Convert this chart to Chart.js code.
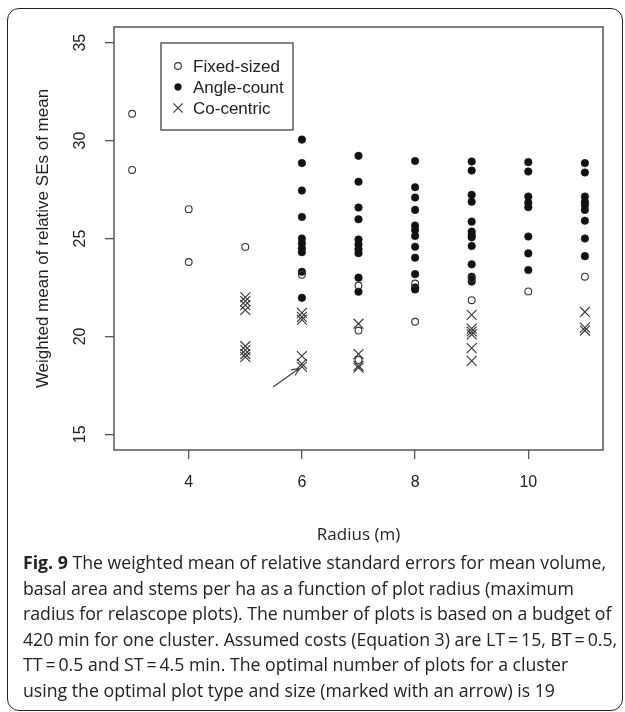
<!DOCTYPE html>
<html>
<head>
<meta charset="utf-8">
<script src="https://cdn.jsdelivr.net/npm/chart.js@4"></script>
<style>
  body { margin: 0; background: #fff; }
  #frame { position: absolute; left: 7px; top: 8px; width: 614px; height: 701px;
           border: 1.5px solid #222; border-radius: 12px; }
  #c { position: absolute; left: 0; top: 0; }
  .cap { position: absolute; left: 23px; white-space: nowrap; font-family: "Open Sans";
         font-size: 18px; line-height: 26px; color: #222; transform-origin: 0 0; }
</style>
</head>
<body>
<div id="frame"></div>
<canvas id="c" width="625" height="560"></canvas>
<div id="caption"></div>
<script>
// tick labels
var xTicks = [4, 6, 8, 10];
var yTicks = [15, 20, 25, 30, 35];

// Fixed-sized plots
var fixedRadius = [3, 3, 4, 4, 5, 6, 7, 7, 7, 8, 8, 9, 9, 10, 11];
var fixedSE = [31.37, 28.5, 26.5, 23.8, 24.57, 23.15, 22.6, 20.3, 18.8, 22.7, 20.75, 22.95, 21.85, 22.3, 23.05];

// Angle-count plots
var angleRadius = [6, 6, 6, 6, 6, 6, 6, 6, 6, 6,
                   7, 7, 7, 7, 7, 7, 7, 7, 7, 7,
                   8, 8, 8, 8, 8, 8, 8, 8, 8, 8, 8, 8,
                   9, 9, 9, 9, 9, 9, 9, 9, 9, 9, 9, 9,
                   10, 10, 10, 10, 10, 10, 10, 10,
                   11, 11, 11, 11, 11, 11, 11, 11, 11];
var angleSE = [30.05, 28.85, 27.45, 26.1, 25.0, 24.75, 24.5, 24.3, 23.3, 21.97,
               29.22, 27.9, 26.58, 25.98, 24.95, 24.7, 24.45, 24.25, 23.0, 22.28,
               28.96, 27.62, 27.09, 26.46, 25.66, 25.43, 25.13, 24.58, 24.02, 23.18, 22.5, 22.4,
               28.93, 28.47, 27.23, 26.88, 25.86, 25.35, 25.18, 25.06, 24.62, 23.68, 23.05, 22.8,
               28.9, 28.42, 27.14, 26.83, 26.6, 25.1, 24.24, 23.39,
               28.85, 28.37, 27.14, 26.88, 26.71, 26.46, 25.91, 25.0, 24.1];

// Co-centric plots
var coRadius = [5, 5, 5, 5, 5, 5, 5, 5,
                6, 6, 6, 6, 6, 6,
                7, 7, 7, 7,
                9, 9, 9, 9, 9, 9,
                11, 11, 11];
var coSE = [22.0, 21.8, 21.6, 21.35, 19.5, 19.3, 19.1, 18.95,
            21.2, 21.0, 20.85, 19.0, 18.6, 18.45,
            20.65, 19.1, 18.5, 18.4,
            21.1, 20.4, 20.25, 20.1, 19.4, 18.75,
            21.25, 20.45, 20.3];

// arrow pointing at the optimum (data units)
var arrowFrom = [5.49, 17.42];
var arrowTo = [5.95, 18.36];

var captionLines = [
  '<b>Fig. 9</b> The weighted mean of relative standard errors for mean volume,',
  'basal area and stems per ha as a function of plot radius (maximum',
  'radius for relascope plots). The number of plots is based on a budget of',
  '420 min for one cluster. Assumed costs (Equation 3) are LT\u2009=\u200915, BT\u2009=\u20090.5,',
  'TT\u2009=\u20090.5 and ST\u2009=\u20094.5 min. The optimal number of plots for a cluster',
  'using the optimal plot type and size (marked with an arrow) is 19'
];
var captionWidth = 583; // width of the first caption line in the figure

function pts(xs, ys) {
  return xs.map(function (x, i) { return {x: x, y: ys[i]}; });
}

var axisFont = '16px "Liberation Sans", Arial, sans-serif';

function marker(ctx, ds, x, y) {
  ctx.save();
  ctx.lineWidth = ds.borderWidth;
  ctx.strokeStyle = ds.borderColor;
  ctx.fillStyle = ds.backgroundColor;
  var r = ds.pointRadius;
  ctx.beginPath();
  if (ds.pointStyle === 'crossRot') {
    var d = r * Math.SQRT1_2;
    ctx.moveTo(x - d, y - d); ctx.lineTo(x + d, y + d);
    ctx.moveTo(x - d, y + d); ctx.lineTo(x + d, y - d);
    ctx.stroke();
  } else {
    ctx.arc(x, y, r, 0, Math.PI * 2);
    ctx.fill();
    ctx.stroke();
  }
  ctx.restore();
}

var rStyle = {
  id: 'rStyle',
  beforeDatasetsDraw: function (chart) {
    var ctx = chart.ctx, a = chart.chartArea;
    ctx.save();
    ctx.strokeStyle = '#555';
    ctx.lineWidth = 1.5;
    ctx.strokeRect(a.left, a.top, a.right - a.left, a.bottom - a.top);
    ctx.restore();
  },
  afterDraw: function (chart) {
    var ctx = chart.ctx, xs = chart.scales.x, ys = chart.scales.y;

    // rotated y tick labels like R
    ctx.save();
    ctx.font = axisFont;
    ctx.fillStyle = '#222';
    ctx.textAlign = 'center';
    ctx.textBaseline = 'middle';
    ys.ticks.forEach(function (t) {
      ctx.save();
      ctx.translate(81, ys.getPixelForValue(t.value));
      ctx.rotate(-Math.PI / 2);
      ctx.fillText(String(t.value), 0, 0);
      ctx.restore();
    });
    ctx.restore();

    // arrow
    var x0 = xs.getPixelForValue(arrowFrom[0]), y0 = ys.getPixelForValue(arrowFrom[1]);
    var x1 = xs.getPixelForValue(arrowTo[0]), y1 = ys.getPixelForValue(arrowTo[1]);
    var ang = Math.atan2(y1 - y0, x1 - x0), h = 8;
    ctx.save();
    ctx.strokeStyle = '#444';
    ctx.lineWidth = 1.2;
    ctx.beginPath();
    ctx.moveTo(x0, y0); ctx.lineTo(x1, y1);
    ctx.moveTo(x1 - h * Math.cos(ang - 0.45), y1 - h * Math.sin(ang - 0.45));
    ctx.lineTo(x1, y1);
    ctx.lineTo(x1 - h * Math.cos(ang + 0.45), y1 - h * Math.sin(ang + 0.45));
    ctx.stroke();
    ctx.restore();

    // legend box, top left of the plot
    ctx.save();
    ctx.strokeStyle = '#444';
    ctx.lineWidth = 1.3;
    ctx.strokeRect(161, 43, 132, 87);
    ctx.font = '17px "Liberation Sans", Arial, sans-serif';
    ctx.fillStyle = '#222';
    ctx.textBaseline = 'middle';
    chart.data.datasets.forEach(function (ds, i) {
      var ly = 66 + i * 21;
      var lr = ds.pointStyle === 'crossRot' ? 6.5 : 3.4;
      marker(ctx, {pointStyle: ds.pointStyle, pointRadius: lr, borderWidth: ds.borderWidth,
                   borderColor: ds.borderColor, backgroundColor: ds.backgroundColor}, 178, ly);
      ctx.fillStyle = '#222';
      ctx.fillText(ds.label, 193, ly + 1);
    });
    ctx.restore();
  }
};

var ctx = document.getElementById('c').getContext('2d');

var chart = new Chart(ctx, {
  type: 'scatter',
  data: {
    datasets: [{
      label: 'Fixed-sized',
      data: pts(fixedRadius, fixedSE),
      pointStyle: 'circle',
      pointRadius: 3.4,
      borderWidth: 1.1,
      borderColor: '#333',
      backgroundColor: 'rgba(0,0,0,0)'
    }, {
      label: 'Angle-count',
      data: pts(angleRadius, angleSE),
      pointStyle: 'circle',
      pointRadius: 3.8,
      borderWidth: 0.5,
      borderColor: '#111',
      backgroundColor: '#111'
    }, {
      label: 'Co-centric',
      data: pts(coRadius, coSE),
      pointStyle: 'crossRot',
      pointRadius: 7,
      borderWidth: 1.1,
      borderColor: '#333',
      backgroundColor: '#333'
    }]
  },
  options: {
    responsive: false,
    devicePixelRatio: 1,
    animation: false,
    layout: { padding: { top: 27, right: 22, left: 0, bottom: 0 } },
    plugins: { legend: { display: false }, tooltip: { enabled: false } },
    scales: {
      x: {
        type: 'linear',
        min: 2.68,
        max: 11.32,
        afterBuildTicks: function (s) { s.ticks = xTicks.map(function (v) { return {value: v}; }); },
        afterFit: function (s) { s.height = 110; },
        grid: { drawOnChartArea: false, drawTicks: true, tickLength: 9, color: '#555', lineWidth: 1.3 },
        border: { display: false },
        ticks: { font: { family: '"Liberation Sans", Arial, sans-serif', size: 16 }, color: '#222', padding: 14, maxRotation: 0 },
        title: { display: true, text: 'Radius (m)', color: '#222',
                 font: { family: '"Open Sans"', size: 17 }, padding: { top: 0, bottom: 15 } }
      },
      y: {
        type: 'linear',
        min: 14.2,
        max: 35.8,
        afterBuildTicks: function (s) { s.ticks = yTicks.map(function (v) { return {value: v}; }); },
        afterFit: function (s) { s.width = 114; },
        grid: { drawOnChartArea: false, drawTicks: true, tickLength: 9, color: '#555', lineWidth: 1.3 },
        border: { display: false },
        ticks: { color: 'rgba(0,0,0,0)', font: { size: 16 } },
        title: { display: true, text: 'Weighted mean of relative SEs of mean', color: '#222',
                 font: { family: '"Liberation Sans", Arial, sans-serif', size: 17 }, padding: { top: 33, bottom: 0 } }
      }
    }
  },
  plugins: [rStyle]
});

// caption; all lines share the horizontal squeeze of the first one
var cap = document.getElementById('caption');
var squeeze = null;
captionLines.forEach(function (l, i) {
  var d = document.createElement('div');
  d.className = 'cap';
  d.innerHTML = l;
  d.style.top = (549 + i * 25.6) + 'px';
  cap.appendChild(d);
  if (squeeze === null) squeeze = captionWidth / d.getBoundingClientRect().width;
  d.style.transform = 'scaleX(' + squeeze + ')';
});
</script>
</body>
</html>
